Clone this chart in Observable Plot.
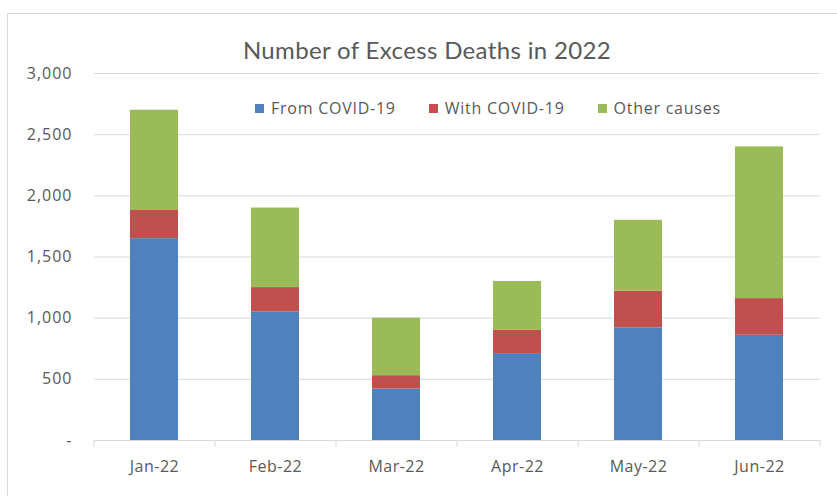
<!DOCTYPE html>
<html>
<head>
<meta charset="utf-8">
<script src="https://cdn.jsdelivr.net/npm/d3@7"></script>
<script src="https://cdn.jsdelivr.net/npm/@observablehq/plot@0.6"></script>
<style>
  html, body { margin: 0; padding: 0; background: #fff; }
  #wrap { position: relative; width: 837px; height: 496px; overflow: hidden; }
  #frame { position: absolute; left: 7px; top: 13px; width: 840px; height: 500px; border: 1px solid #d9d9d9; box-sizing: border-box; }
  #title { position: absolute; left: 0; top: 35px; width: 854px; text-align: center; font-family: Lato, sans-serif; font-size: 24px; letter-spacing: 0.35px; color: #595959; }
  #legend { position: absolute; top: 97px; left: 255px; font-family: "Open Sans", sans-serif; font-size: 16px; letter-spacing: 0.75px; color: #595959; display: flex; white-space: nowrap; }
  #legend .item { display: flex; align-items: center; margin-right: 33px; }
  #legend .sw { width: 9px; height: 9px; margin-right: 7px; }
  #chart { position: absolute; left: 0; top: 0; }
  #chart svg g[aria-label="y-axis tick label"] text { letter-spacing: 1px; }
  #chart svg g[aria-label="x-axis tick label"] text { letter-spacing: 0.5px; }
</style>
</head>
<body>
<div id="wrap">
  <div id="frame"></div>
  <div id="chart"></div>
  <div id="title"></div>
  <div id="legend"></div>
</div>
<script>
const months = ["Jan-22", "Feb-22", "Mar-22", "Apr-22", "May-22", "Jun-22"];
const seriesNames = ["From COVID-19", "With COVID-19", "Other causes"];
const fromCovid = [1650, 1050, 420, 710, 920, 860];
const withCovid = [230, 200, 110, 190, 300, 300];
const otherCauses = [820, 650, 470, 400, 580, 1240];
const colors = ["#4F81BD", "#C0504D", "#9BBB59"];
const yTicks = [0, 500, 1000, 1500, 2000, 2500, 3000];
const titleText = "Number of Excess Deaths in 2022";

const seriesValues = [fromCovid, withCovid, otherCauses];
const data = [];
seriesNames.forEach((s, si) => months.forEach((m, mi) => data.push({month: m, series: s, value: seriesValues[si][mi]})));

document.getElementById("title").textContent = titleText;
const legend = document.getElementById("legend");
seriesNames.forEach((s, i) => {
  const it = document.createElement("div"); it.className = "item";
  const sw = document.createElement("div"); sw.className = "sw"; sw.style.background = colors[i];
  const tx = document.createElement("span"); tx.textContent = s;
  it.appendChild(sw); it.appendChild(tx); legend.appendChild(it);
});

const W = 837, H = 496, ML = 94, MR = 17;
const step = (W - ML - MR) / months.length;

const chart = Plot.plot({
  width: W, height: H,
  marginLeft: ML, marginRight: MR, marginTop: 73, marginBottom: 56,
  style: { fontFamily: "'Open Sans', sans-serif", fontSize: "16px", color: "#595959", background: "transparent" },
  x: { domain: months, paddingInner: 0.6, paddingOuter: 0.3, label: null, tickSize: 0, tickPadding: 20 },
  y: { domain: [0, 3000], ticks: yTicks, label: null, tickSize: 0, tickPadding: 22,
       tickFormat: d => d === 0 ? "-" : d3.format(",")(d) },
  color: { domain: seriesNames, range: colors },
  marks: [
    Plot.gridY(yTicks.filter(d => d > 0), { stroke: "#d9d9d9", strokeOpacity: 1 }),
    Plot.ruleY([0], { stroke: "#d9d9d9" }),
    Plot.ruleX(months, { x: d => d, dx: -step / 2, y1: 0, y2: -55, stroke: "#d9d9d9" }),
    Plot.ruleX([months[months.length - 1]], { x: d => d, dx: step / 2, y1: 0, y2: -55, stroke: "#d9d9d9" }),
    Plot.barY(data, { x: "month", y: "value", fill: "series", order: seriesNames })
  ]
});
document.getElementById("chart").appendChild(chart);
</script>
</body>
</html>
